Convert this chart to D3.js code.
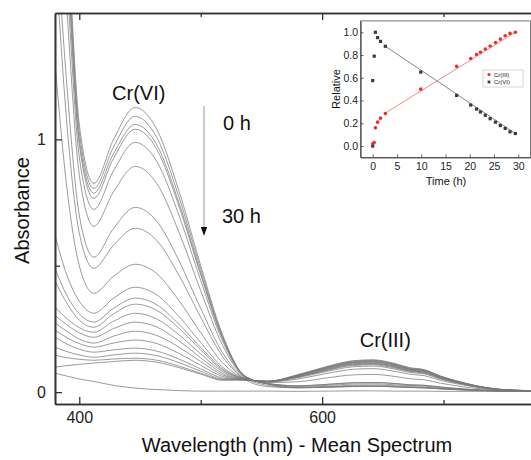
<!DOCTYPE html>
<html>
<head>
<meta charset="utf-8">
<script src="https://cdn.jsdelivr.net/npm/d3@7"></script>
<style>
  body { margin: 0; background: #fff; }
  text { font-family: "Liberation Sans", Arial, sans-serif; }
</style>
</head>
<body>
<div id="container"></div>
<script>
/* DATA */
const wavelengths = [380, 390, 400, 412, 428, 446, 464, 482, 500, 518, 536, 555, 580, 605, 625, 642, 660, 672, 684, 698, 712, 735, 755, 780]

// one row per spectrum (0 h at the top)
const spectra = [
  [2.6, 1.85, 1.06, 0.826, 0.997, 1.126, 1.038, 0.797, 0.501, 0.227, 0.065, 0.032, 0.018, 0.019, 0.022, 0.023, 0.021, 0.018, 0.017, 0.013, 0.009, 0.005, 0.004, 0.003],
  [2.55, 1.8, 1.03, 0.806, 0.968, 1.091, 1.006, 0.773, 0.486, 0.221, 0.065, 0.033, 0.020, 0.023, 0.027, 0.028, 0.025, 0.022, 0.020, 0.015, 0.011, 0.006, 0.004, 0.003],
  [2.5, 1.75, 1.0, 0.787, 0.942, 1.059, 0.977, 0.750, 0.472, 0.215, 0.065, 0.033, 0.023, 0.027, 0.032, 0.033, 0.029, 0.026, 0.024, 0.017, 0.013, 0.007, 0.004, 0.004],
  [2.45, 1.7, 0.98, 0.767, 0.923, 1.040, 0.959, 0.737, 0.464, 0.212, 0.064, 0.035, 0.025, 0.031, 0.037, 0.038, 0.034, 0.029, 0.027, 0.020, 0.014, 0.007, 0.004, 0.004],
  [2.4, 1.62, 0.93, 0.723, 0.874, 0.988, 0.911, 0.701, 0.442, 0.202, 0.063, 0.034, 0.025, 0.031, 0.037, 0.038, 0.034, 0.029, 0.027, 0.020, 0.014, 0.007, 0.004, 0.004],
  [2.3, 1.5, 0.86, 0.656, 0.791, 0.893, 0.824, 0.634, 0.401, 0.185, 0.059, 0.027, 0.017, 0.020, 0.023, 0.024, 0.021, 0.019, 0.017, 0.013, 0.010, 0.006, 0.004, 0.003],
  [1.9, 1.2, 0.70, 0.534, 0.646, 0.731, 0.675, 0.521, 0.331, 0.156, 0.059, 0.038, 0.041, 0.057, 0.068, 0.070, 0.062, 0.053, 0.049, 0.035, 0.024, 0.011, 0.006, 0.004],
  [1.75, 1.05, 0.63, 0.490, 0.580, 0.648, 0.599, 0.463, 0.296, 0.141, 0.052, 0.022, 0.017, 0.020, 0.023, 0.024, 0.021, 0.019, 0.017, 0.013, 0.010, 0.006, 0.004, 0.003],
  [1.3, 0.80, 0.50, 0.391, 0.457, 0.506, 0.468, 0.363, 0.235, 0.116, 0.055, 0.040, 0.052, 0.075, 0.090, 0.093, 0.082, 0.071, 0.065, 0.046, 0.032, 0.014, 0.007, 0.005],
  [0.62, 0.46, 0.36, 0.312, 0.371, 0.415, 0.384, 0.300, 0.196, 0.099, 0.054, 0.041, 0.057, 0.083, 0.100, 0.103, 0.091, 0.078, 0.072, 0.051, 0.035, 0.015, 0.007, 0.005],
  [0.49, 0.38, 0.31, 0.277, 0.331, 0.372, 0.345, 0.269, 0.177, 0.092, 0.053, 0.042, 0.060, 0.087, 0.105, 0.108, 0.095, 0.082, 0.075, 0.053, 0.037, 0.016, 0.007, 0.005],
  [0.44, 0.35, 0.285, 0.257, 0.309, 0.348, 0.323, 0.253, 0.167, 0.087, 0.053, 0.042, 0.060, 0.089, 0.108, 0.111, 0.098, 0.084, 0.078, 0.055, 0.038, 0.016, 0.007, 0.005],
  [0.336, 0.29, 0.255, 0.237, 0.280, 0.312, 0.289, 0.227, 0.151, 0.081, 0.051, 0.042, 0.061, 0.091, 0.110, 0.113, 0.100, 0.086, 0.079, 0.056, 0.038, 0.016, 0.007, 0.005],
  [0.304, 0.265, 0.235, 0.217, 0.251, 0.277, 0.257, 0.203, 0.136, 0.074, 0.050, 0.043, 0.062, 0.093, 0.112, 0.115, 0.102, 0.087, 0.080, 0.057, 0.039, 0.016, 0.007, 0.005],
  [0.273, 0.24, 0.21, 0.194, 0.221, 0.241, 0.224, 0.178, 0.121, 0.068, 0.050, 0.043, 0.064, 0.095, 0.115, 0.118, 0.104, 0.089, 0.082, 0.058, 0.040, 0.017, 0.008, 0.005],
  [0.245, 0.215, 0.192, 0.178, 0.194, 0.206, 0.192, 0.153, 0.106, 0.062, 0.049, 0.042, 0.065, 0.097, 0.116, 0.120, 0.106, 0.091, 0.084, 0.059, 0.040, 0.017, 0.008, 0.005],
  [0.217, 0.19, 0.17, 0.158, 0.167, 0.174, 0.162, 0.131, 0.092, 0.056, 0.048, 0.042, 0.066, 0.098, 0.118, 0.122, 0.108, 0.092, 0.085, 0.060, 0.041, 0.017, 0.008, 0.005],
  [0.178, 0.16, 0.147, 0.138, 0.147, 0.154, 0.144, 0.117, 0.083, 0.052, 0.049, 0.042, 0.067, 0.100, 0.120, 0.124, 0.109, 0.094, 0.086, 0.061, 0.042, 0.018, 0.008, 0.005],
  [0.146, 0.136, 0.13, 0.126, 0.131, 0.134, 0.126, 0.103, 0.075, 0.049, 0.048, 0.043, 0.068, 0.101, 0.122, 0.126, 0.111, 0.095, 0.088, 0.062, 0.042, 0.018, 0.008, 0.005],
  [0.099, 0.105, 0.11, 0.115, 0.121, 0.126, 0.118, 0.097, 0.071, 0.047, 0.048, 0.043, 0.069, 0.103, 0.124, 0.128, 0.113, 0.097, 0.089, 0.063, 0.043, 0.018, 0.008, 0.006],
  [0.075, 0.063, 0.052, 0.042, 0.027, 0.016, 0.010, 0.006, 0.004, 0.004, 0.004, 0.004, 0.003, 0.004, 0.005, 0.005, 0.004, 0.004, 0.004, 0.003, 0.003, 0.003, 0.003, 0.003]
]

// inset: relative concentration vs time
const timesCr3 = [0, 0.3, 0.55, 1.0, 1.6, 2.6, 9.9, 17.3, 20.2, 21.4, 22.2, 23.2, 24.2, 25.3, 26.3, 27.3, 28.3, 29.4]
const valuesCr3 = [0.02, 0.03, 0.16, 0.21, 0.245, 0.285, 0.50, 0.70, 0.77, 0.805, 0.825, 0.853, 0.88, 0.91, 0.94, 0.97, 0.99, 1.0]
const timesCr6 = [0, 0, 0.3, 0.55, 1.0, 1.6, 2.6, 9.9, 17.3, 20.2, 21.4, 22.2, 23.2, 24.2, 25.3, 26.3, 27.3, 28.3, 29.4]
const valuesCr6 = [0.0, 0.575, 0.79, 1.0, 0.953, 0.92, 0.877, 0.65, 0.445, 0.36, 0.325, 0.30, 0.27, 0.24, 0.21, 0.18, 0.155, 0.125, 0.11]
const fitCr3 = [[2.6, 0.29], [29.4, 1.0]]
const fitCr6 = [[2.6, 0.877], [29.4, 0.11]]

const xMajor = [400, 600], xMinor = [500, 700]
const yMajor = [0, 1], yMinor = [0.5]
const insetXTicks = [0, 5, 10, 15, 20, 25, 30]
const insetYTicks = [0, 0.2, 0.4, 0.6, 0.8, 1.0]

/* CONSTANTS */
const width = 531, height = 460
const mLeft = 55, mTop = 13, mBottom = 404, mRight = 565
const axisColor = "#333"

const svg = d3.select("#container")
  .append("svg")
  .attr("width", width)
  .attr("height", height)

// SCALES
const xScale = d3.scaleLinear().domain([380, 800]).range([mLeft, mRight])
const yScale = d3.scaleLinear().domain([-0.047, 1.5]).range([mBottom, mTop])

svg.append("clipPath").attr("id", "plotclip")
  .append("rect")
  .attr("x", mLeft).attr("y", mTop)
  .attr("width", mRight - mLeft).attr("height", mBottom - mTop)

// SPECTRA
const lineGen = d3.line()
  .x((d, i) => xScale(wavelengths[i]))
  .y(d => yScale(d))
  .curve(d3.curveMonotoneX)

svg.append("g")
  .attr("clip-path", "url(#plotclip)")
  .selectAll("path.spec")
  .data(spectra)
  .join("path")
  .attr("class", "spec")
  .attr("fill", "none")
  .attr("stroke", "#7a7a7a")
  .attr("stroke-width", 0.75)
  .attr("d", d => lineGen(d))

// AXES
function styleAxis(g, size) {
  g.select(".domain").attr("stroke", axisColor).attr("stroke-width", 1.6)
  g.selectAll(".tick line").attr("stroke", axisColor).attr("stroke-width", 1.3)
  g.selectAll(".tick text").attr("fill", "#222").style("font-size", size + "px")
    .style("font-family", '"Liberation Sans", Arial, sans-serif')
}

svg.append("g")
  .attr("transform", `translate(0, ${mBottom})`)
  .call(d3.axisBottom(xScale).tickValues(xMajor).tickSize(-7).tickSizeOuter(0).tickPadding(8))
  .call(g => styleAxis(g, 16))
svg.append("g")
  .attr("transform", `translate(0, ${mBottom})`)
  .call(d3.axisBottom(xScale).tickValues(xMinor).tickSize(-4).tickSizeOuter(0).tickFormat(""))
  .call(g => styleAxis(g, 16))
svg.append("g")
  .attr("transform", `translate(0, ${mTop})`)
  .call(d3.axisTop(xScale).tickValues(xMajor).tickSize(-7).tickSizeOuter(0).tickFormat(""))
  .call(g => styleAxis(g, 16))
svg.append("g")
  .attr("transform", `translate(0, ${mTop})`)
  .call(d3.axisTop(xScale).tickValues(xMinor).tickSize(-4).tickSizeOuter(0).tickFormat(""))
  .call(g => styleAxis(g, 16))

svg.append("g")
  .attr("transform", `translate(${mLeft}, 0)`)
  .call(d3.axisLeft(yScale).tickValues(yMajor).tickSize(-7).tickSizeOuter(0).tickPadding(9).tickFormat(d3.format("d")))
  .call(g => styleAxis(g, 16))
svg.append("g")
  .attr("transform", `translate(${mLeft}, 0)`)
  .call(d3.axisLeft(yScale).tickValues(yMinor).tickSize(-5).tickSizeOuter(0).tickFormat(""))
  .call(g => styleAxis(g, 16))

// AXIS TITLES
svg.append("text")
  .attr("x", 297).attr("y", 452)
  .attr("text-anchor", "middle")
  .attr("fill", "#111")
  .style("font-size", "20px")
  .text("Wavelength (nm) - Mean Spectrum")

svg.append("text")
  .attr("transform", `translate(29, ${(mTop + mBottom) / 2 + 2}) rotate(-90)`)
  .attr("text-anchor", "middle")
  .attr("fill", "#111")
  .style("font-size", "20px")
  .text("Absorbance")

// ANNOTATIONS
svg.append("text").attr("x", xScale(449)).attr("y", 100)
  .attr("text-anchor", "middle").attr("fill", "#111").style("font-size", "20px").text("Cr(VI)")
svg.append("text").attr("x", xScale(652)).attr("y", 347)
  .attr("text-anchor", "middle").attr("fill", "#111").style("font-size", "20px").text("Cr(III)")
svg.append("text").attr("x", 223).attr("y", 130)
  .attr("fill", "#111").style("font-size", "20px").text("0 h")
svg.append("text").attr("x", 222).attr("y", 223)
  .attr("fill", "#111").style("font-size", "20px").text("30 h")

svg.append("line")
  .attr("x1", 204).attr("x2", 204).attr("y1", 106).attr("y2", 229)
  .attr("stroke", "#bbb").attr("stroke-width", 1.5)
svg.append("path")
  .attr("d", "M200.8,227 L207.2,227 L204,236 Z")
  .attr("fill", "#111")

// INSET
const ix = d3.scaleLinear().domain([-2.5, 32.5]).range([360.6, 530.4])
const iy = d3.scaleLinear().domain([-0.1, 1.1]).range([157.4, 20.9])

const inset = svg.append("g")
inset.append("rect")
  .attr("x", ix.range()[0]).attr("y", iy.range()[1])
  .attr("width", ix.range()[1] - ix.range()[0])
  .attr("height", iy.range()[0] - iy.range()[1])
  .attr("fill", "#fff").attr("stroke", "#555").attr("stroke-width", 0.8)

function styleInset(g) {
  g.select(".domain").attr("stroke", "#444").attr("stroke-width", 1)
  g.selectAll(".tick line").attr("stroke", "#444").attr("stroke-width", 0.8)
  g.selectAll(".tick text").attr("fill", "#222").style("font-size", "10.5px")
    .style("font-family", '"Liberation Sans", Arial, sans-serif')
}

inset.append("g")
  .attr("transform", `translate(0, ${iy.range()[0]})`)
  .call(d3.axisBottom(ix).tickValues(insetXTicks).tickSize(-3).tickSizeOuter(0).tickPadding(5))
  .call(styleInset)
inset.append("g")
  .attr("transform", `translate(${ix.range()[0]}, 0)`)
  .call(d3.axisLeft(iy).tickValues(insetYTicks).tickSize(-3).tickSizeOuter(0).tickPadding(2.5).tickFormat(d3.format(".1f")))
  .call(styleInset)

inset.append("text")
  .attr("x", 446).attr("y", 185)
  .attr("text-anchor", "middle").attr("fill", "#111").style("font-size", "11px")
  .text("Time (h)")
inset.append("text")
  .attr("transform", `translate(340, 89) rotate(-90)`)
  .attr("text-anchor", "middle").attr("fill", "#111").style("font-size", "11px")
  .text("Relative")

const fitLine = d3.line().x(d => ix(d[0])).y(d => iy(d[1]))
inset.append("path").attr("d", fitLine(fitCr6))
  .attr("stroke", "#777").attr("stroke-width", 0.9).attr("fill", "none")
inset.append("path").attr("d", fitLine(fitCr3))
  .attr("stroke", "#f07a7a").attr("stroke-width", 0.9).attr("fill", "none")

inset.selectAll("rect.cr6")
  .data(valuesCr6)
  .join("rect")
  .attr("class", "cr6")
  .attr("x", (d, i) => ix(timesCr6[i]) - 1.6)
  .attr("y", d => iy(d) - 1.6)
  .attr("width", 3.2).attr("height", 3.2)
  .attr("fill", "#3a3a3a")

inset.selectAll("circle.cr3")
  .data(valuesCr3)
  .join("circle")
  .attr("class", "cr3")
  .attr("cx", (d, i) => ix(timesCr3[i]))
  .attr("cy", d => iy(d))
  .attr("r", 1.8)
  .attr("fill", "#e8302a")

// LEGEND
const legend = inset.append("g").attr("transform", "translate(483, 70)")
legend.append("rect").attr("width", 40).attr("height", 17)
  .attr("fill", "#fff").attr("stroke", "#bbb").attr("stroke-width", 0.6)
legend.append("circle").attr("cx", 6).attr("cy", 4.5).attr("r", 1.6).attr("fill", "#e8302a")
legend.append("rect").attr("x", 4.6).attr("y", 10.6).attr("width", 2.8).attr("height", 2.8).attr("fill", "#3a3a3a")
legend.append("text").attr("x", 11).attr("y", 6.6).style("font-size", "6px").attr("fill", "#222").text("Cr(III)")
legend.append("text").attr("x", 11).attr("y", 14).style("font-size", "6px").attr("fill", "#222").text("Cr(VI)")
</script>
</body>
</html>
